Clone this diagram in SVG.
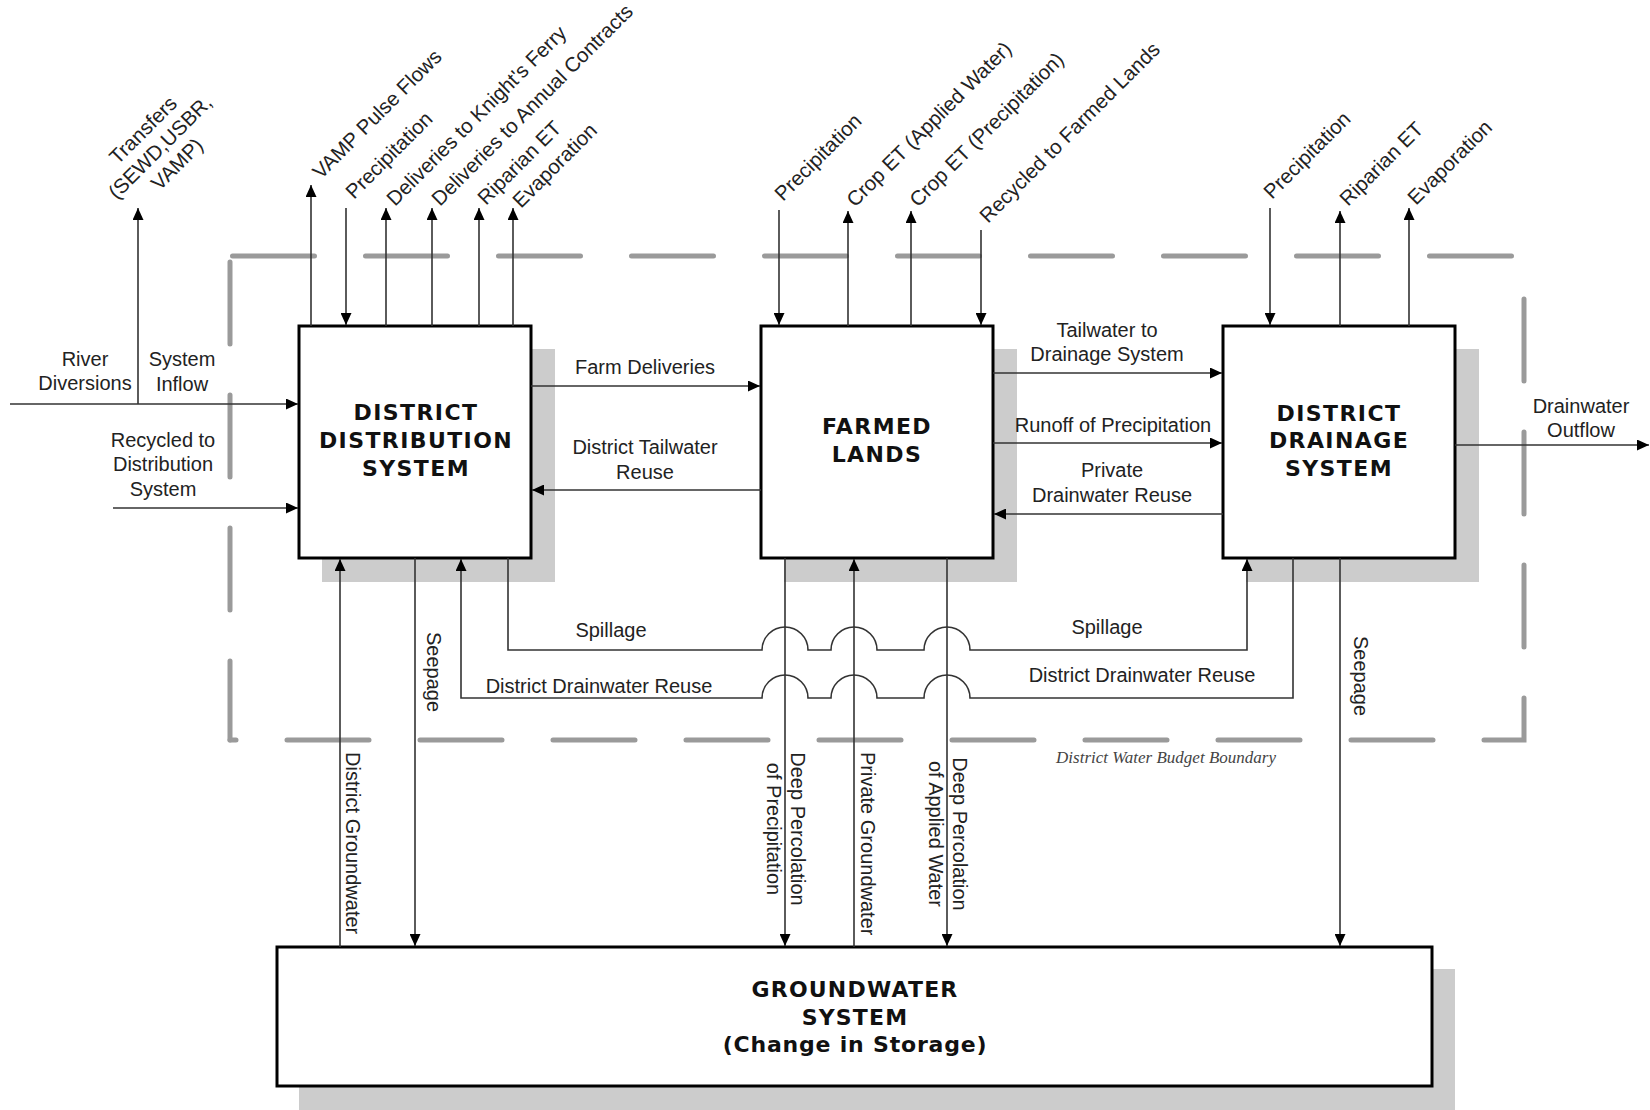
<svg xmlns="http://www.w3.org/2000/svg" width="1650" height="1110" viewBox="0 0 1650 1110">
<style>
.bnd{fill:none;stroke:#9a9a9a;stroke-width:5;stroke-linecap:round;stroke-dasharray:82 51}
.shd{fill:#cccccc}
.box{fill:#fff;stroke:#000;stroke-width:3}
.ttl{font-family:"DejaVu Sans",Verdana,sans-serif;font-weight:bold;font-size:22px;letter-spacing:1.4px;text-anchor:middle;fill:#111}
.lbl{font-family:"Liberation Sans",Arial,sans-serif;font-size:20px;fill:#222}
.rot{font-size:20.5px}
.mid{text-anchor:middle}
.con{fill:none;stroke:#333;stroke-width:1.6;marker-end:url(#ah)}
.bl{font-family:"Liberation Serif","Times New Roman",serif;font-style:italic;font-size:17px;fill:#444;text-anchor:middle}
</style>
<defs>
<marker id="ah" viewBox="0 0 12 11" refX="12" refY="5.5" markerWidth="12" markerHeight="11" markerUnits="userSpaceOnUse" orient="auto"><path d="M0,0 L12,5.5 L0,11 z" fill="#000"/></marker>
</defs>
<rect width="1650" height="1110" fill="#fff"/>
<g id="boundary">
<path class="bnd" d="M232.5,256 H1524"/>
<path class="bnd" d="M1524,299 V740 H230"/>
<path class="bnd" d="M230,262 V740"/>
<text class="bl" x="1166" y="763">District Water Budget Boundary</text>
</g>
<g id="node-distribution">
<rect class="shd" x="322" y="349" width="233" height="233"/>
<rect class="box" x="299" y="326" width="232" height="232"/>
<text class="ttl" x="416" y="420">DISTRICT</text>
<text class="ttl" x="416" y="448">DISTRIBUTION</text>
<text class="ttl" x="416" y="476">SYSTEM</text>
</g>
<g id="node-farmed">
<rect class="shd" x="784" y="349" width="233" height="233"/>
<rect class="box" x="761" y="326" width="232" height="232"/>
<text class="ttl" x="877" y="434">FARMED</text>
<text class="ttl" x="877" y="462">LANDS</text>
</g>
<g id="node-drainage">
<rect class="shd" x="1246" y="349" width="233" height="233"/>
<rect class="box" x="1223" y="326" width="232" height="232"/>
<text class="ttl" x="1339" y="421">DISTRICT</text>
<text class="ttl" x="1339" y="448">DRAINAGE</text>
<text class="ttl" x="1339" y="476">SYSTEM</text>
</g>
<g id="node-groundwater">
<rect class="shd" x="299" y="969" width="1156" height="141"/>
<rect class="box" x="277" y="947" width="1155" height="139"/>
<text class="ttl" x="855" y="997" style="letter-spacing:1.2px">GROUNDWATER</text>
<text class="ttl" x="855" y="1025" style="letter-spacing:1.2px">SYSTEM</text>
<text class="ttl" x="855" y="1052" style="letter-spacing:0.8px">(Change in Storage)</text>
</g>
<g id="connectors">
<path class="con" d="M311,326 V185"/>
<path class="con" d="M346,208 V325"/>
<path class="con" d="M386,326 V208"/>
<path class="con" d="M432,326 V208"/>
<path class="con" d="M479,326 V208"/>
<path class="con" d="M513,326 V208"/>
<path class="con" d="M138,404 V208"/>
<path class="con" d="M10,404 H298"/>
<path class="con" d="M113,508 H298"/>
<path class="con" d="M779,210 V325"/>
<path class="con" d="M848,326 V211"/>
<path class="con" d="M911,326 V211"/>
<path class="con" d="M981,230 V325"/>
<path class="con" d="M1270,208 V325"/>
<path class="con" d="M1340,326 V211"/>
<path class="con" d="M1409,326 V208"/>
<path class="con" d="M531,386 H760"/>
<path class="con" d="M761,490 H532"/>
<path class="con" d="M993,373 H1222"/>
<path class="con" d="M993,443 H1222"/>
<path class="con" d="M1223,514 H994"/>
<path class="con" d="M1455,445 H1649"/>
<path class="con" d="M340,947 V559"/>
<path class="con" d="M415,558 V946"/>
<path class="con" d="M508,558 V650 H762 A23,23 0 0 1 808,650 H831 A23,23 0 0 1 877,650 H924 A23,23 0 0 1 970,650 H1247 V559"/>
<path class="con" d="M1293,558 V698 H970 A23,23 0 0 0 924,698 H877 A23,23 0 0 0 831,698 H808 A23,23 0 0 0 762,698 H461 V559"/>
<path class="con" d="M785,558 V946"/>
<path class="con" d="M854,947 V559"/>
<path class="con" d="M947,558 V946"/>
<path class="con" d="M1340,558 V946"/>
</g>
<g id="labels">
<g transform="translate(165,152) rotate(-45)" class="lbl rot mid"><text x="0" y="-24">Transfers</text><text x="0" y="0">(SEWD,USBR,</text><text x="0" y="24">VAMP)</text></g>
<text class="lbl rot" transform="translate(321,180) rotate(-45)">VAMP Pulse Flows</text>
<text class="lbl rot" transform="translate(354,200) rotate(-45)">Precipitation</text>
<text class="lbl rot" transform="translate(395,207) rotate(-45)">Deliveries to Knight's Ferry</text>
<text class="lbl rot" transform="translate(440,207) rotate(-45)">Deliveries to Annual Contracts</text>
<text class="lbl rot" transform="translate(486,206) rotate(-45)">Riparian ET</text>
<text class="lbl rot" transform="translate(521,209) rotate(-45)">Evaporation</text>
<text class="lbl rot" transform="translate(783,202) rotate(-45)">Precipitation</text>
<text class="lbl rot" transform="translate(855,208) rotate(-45)">Crop ET (Applied Water)</text>
<text class="lbl rot" transform="translate(918,208) rotate(-45)">Crop ET (Precipitation)</text>
<text class="lbl rot" transform="translate(988,224) rotate(-45)">Recycled to Farmed Lands</text>
<text class="lbl rot" transform="translate(1272,200) rotate(-45)">Precipitation</text>
<text class="lbl rot" transform="translate(1348,207) rotate(-45)">Riparian ET</text>
<text class="lbl rot" transform="translate(1416,206) rotate(-45)">Evaporation</text>
<text class="lbl mid" x="85" y="366">River</text>
<text class="lbl mid" x="85" y="390">Diversions</text>
<text class="lbl mid" x="182" y="366">System</text>
<text class="lbl mid" x="182" y="391">Inflow</text>
<text class="lbl mid" x="163" y="447">Recycled to</text>
<text class="lbl mid" x="163" y="471">Distribution</text>
<text class="lbl mid" x="163" y="496">System</text>
<text class="lbl mid" x="645" y="374">Farm Deliveries</text>
<text class="lbl mid" x="645" y="454">District Tailwater</text>
<text class="lbl mid" x="645" y="479">Reuse</text>
<text class="lbl mid" x="1107" y="337">Tailwater to</text>
<text class="lbl mid" x="1107" y="361">Drainage System</text>
<text class="lbl mid" x="1113" y="432">Runoff of Precipitation</text>
<text class="lbl mid" x="1112" y="477">Private</text>
<text class="lbl mid" x="1112" y="502">Drainwater Reuse</text>
<text class="lbl mid" x="1581" y="413">Drainwater</text>
<text class="lbl mid" x="1581" y="437">Outflow</text>
<text class="lbl mid" x="611" y="637">Spillage</text>
<text class="lbl mid" x="1107" y="634">Spillage</text>
<text class="lbl mid" x="599" y="693">District Drainwater Reuse</text>
<text class="lbl mid" x="1142" y="682">District Drainwater Reuse</text>
<text class="lbl" transform="translate(346,752) rotate(90)">District Groundwater</text>
<text class="lbl" transform="translate(427,632) rotate(90)">Seepage</text>
<text class="lbl" transform="translate(861,752) rotate(90)">Private Groundwater</text>
<text class="lbl" transform="translate(1354,636) rotate(90)">Seepage</text>
<g transform="translate(791,829) rotate(90)" class="lbl mid"><text x="0" y="0">Deep Percolation</text><text x="0" y="24">of Precipitation</text></g>
<g transform="translate(953,834) rotate(90)" class="lbl mid"><text x="0" y="0">Deep Percolation</text><text x="0" y="24">of Applied Water</text></g>
</g>
</svg>
